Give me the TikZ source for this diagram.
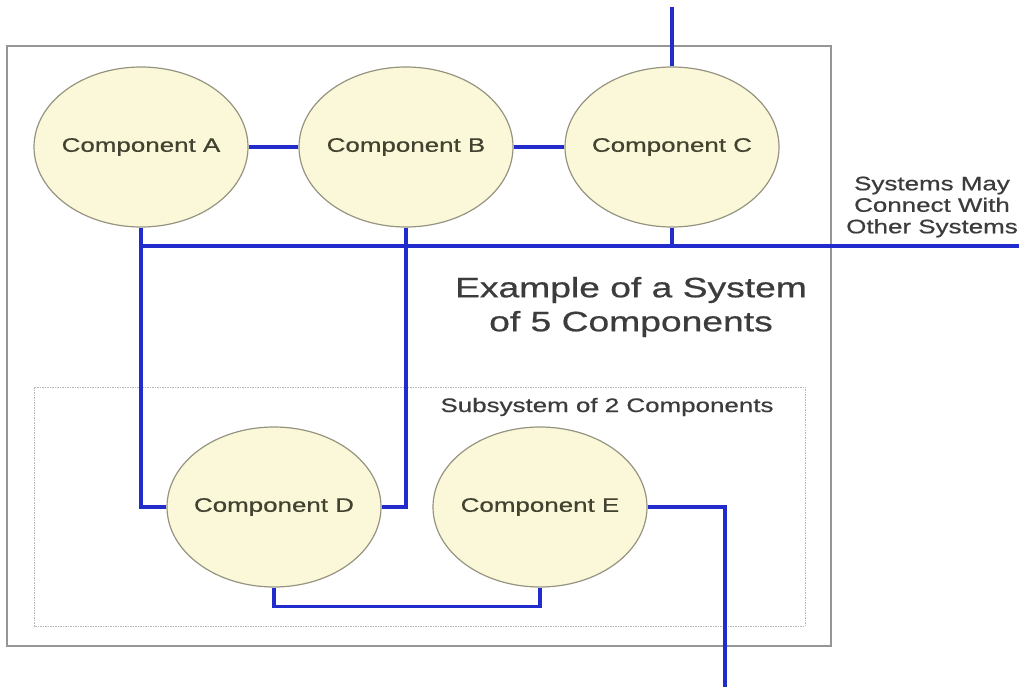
\documentclass[tikz,border=0pt]{standalone}
\usepackage{fontspec}
\usetikzlibrary{shapes.geometric,calc}
\newfontfamily\widesans{Liberation Sans}[FakeStretch=1.33,FakeBold=0.7]
\definecolor{bluewire}{RGB}{34,44,205}
\definecolor{compfill}{RGB}{250,248,216}
\definecolor{compedge}{RGB}{150,148,128}
\definecolor{comptext}{RGB}{66,66,48}
\definecolor{boxedge}{RGB}{150,150,150}
\definecolor{subedge}{RGB}{185,185,185}
\definecolor{labeltext}{RGB}{60,60,60}
% component label set in a zero-width box so the ellipse keeps its own size
\newcommand{\complabel}[1]{\makebox[0pt][c]{#1}}
\tikzset{
  comp/.style={ellipse, draw=compedge, line width=1.2pt, fill=compfill,
    minimum width=214pt, minimum height=160pt, inner sep=0pt,
    text=comptext, font=\widesans\fontsize{19.5}{22}\selectfont},
  wire/.style={draw=bluewire, line width=3.6pt, line cap=butt, line join=miter},
  sysbox/.style={draw=boxedge, line width=2pt},
  subbox/.style={draw=subedge, line width=1pt, dash pattern=on 1.5pt off 1pt},
  caption/.style={text=labeltext, align=center, inner sep=0pt}
}
\begin{document}
\begin{tikzpicture}[x=1pt,y=-1pt]
  \useasboundingbox (0,0) rectangle (1019,687);
  % system and subsystem frames
  \draw[sysbox] (7,46) rectangle (831,646);
  \draw[subbox] (34,387) rectangle (805,626);

  % components
  \node[comp] (a) at (141,147) {\complabel{Component A}};
  \node[comp] (b) at (406,147) {\complabel{Component B}};
  \node[comp] (c) at (672,147) {\complabel{Component C}};
  \node[comp] (d) at (274,507) {\complabel{Component D}};
  \node[comp] (e) at (540,507) {\complabel{Component E}};

  % free ends of the outside links
  \coordinate (bus) at (1019,246);
  \coordinate (ctop) at (672,7);
  \coordinate (eout) at (725,687);

  % links
  \draw[wire] (a.east) -- (b.west);
  \draw[wire] (b.east) -- (c.west);
  \draw[wire] (c.north) -- (ctop);
  \draw[wire] (a.south |- bus) -- (bus);
  \draw[wire] (c.south) -- (c.south |- bus);
  \draw[wire] (a.south) |- (d.west);
  \draw[wire] (b.south) |- (d.east);
  \draw[wire] (d.south) -- ++(0,19) -| (e.south);
  \draw[wire] (e.east) -| (eout);

  % texts
  \node[caption, font=\widesans\fontsize{28}{34}\selectfont] (title) at (631,307)
    {Example of a System\\of 5 Components};
  \node[caption, font=\widesans\fontsize{19.5}{21.5}\selectfont] (note) at (932,207)
    {Systems May\\Connect With\\Other Systems};
  \node[caption, anchor=base, font=\widesans\fontsize{19.5}{22}\selectfont] (sublabel) at (607,412)
    {Subsystem of 2 Components};
\end{tikzpicture}
\end{document}
